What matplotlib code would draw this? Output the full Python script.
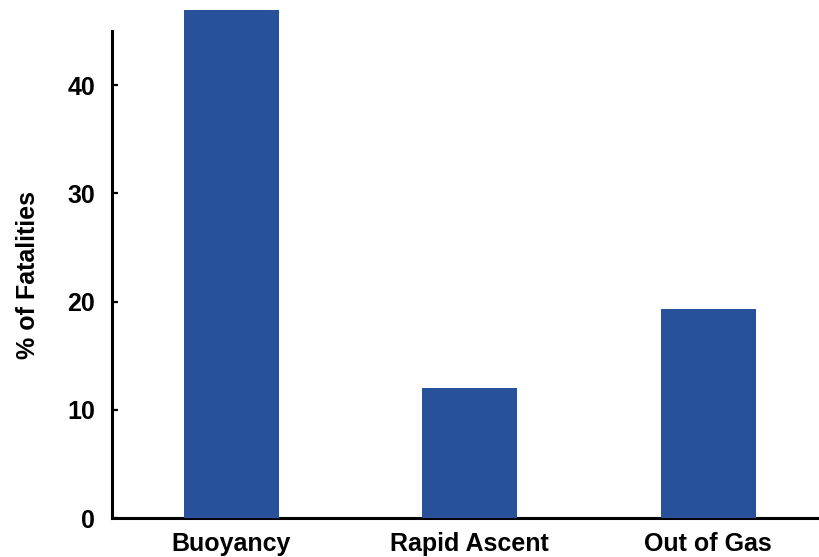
import matplotlib.pyplot as plt

plt.rcParams['font.family'] = ['Liberation Sans', 'DejaVu Sans']
plt.rcParams['font.weight'] = 'bold'

causes = ['Buoyancy', 'Rapid Ascent', 'Out of Gas']
fatalities = [47.0, 12.0, 19.3]

fig = plt.figure(figsize=(8.2, 5.57), dpi=100)
ax = fig.add_axes([0.1366, 0.070, 0.861, 0.874])

x = range(len(causes))
bars = ax.bar(x, fatalities, width=0.40, color='#27519B', zorder=3)
for b in bars:
    b.set_clip_on(False)

ax.set_xlim(-0.5, 2.46)
ax.set_ylim(0, 45)
ax.set_yticks([0, 10, 20, 30, 40])
ax.set_xticks(list(x))
ax.set_xticklabels(causes, fontsize=18, fontweight='bold')
ax.tick_params(axis='x', length=0, pad=10)
ax.tick_params(axis='y', direction='in', length=4, width=1.6, labelsize=18, pad=12)
for t in ax.get_yticklabels():
    t.set_fontweight('bold')

ax.spines['top'].set_visible(False)
ax.spines['right'].set_visible(False)
ax.spines['left'].set_linewidth(2.2)
ax.spines['bottom'].set_linewidth(2.2)

ax.set_ylabel('% of Fatalities', fontsize=18, fontweight='bold', labelpad=20)

fig.savefig('out.png', dpi=100)
